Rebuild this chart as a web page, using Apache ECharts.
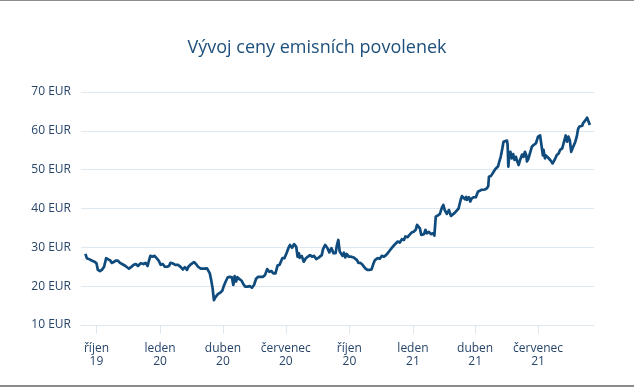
<!DOCTYPE html>
<html>
<head>
<meta charset="utf-8">
<script src="https://cdn.jsdelivr.net/npm/echarts@6/dist/echarts.min.js"></script>
<style>
  html, body { margin: 0; padding: 0; background: #fff; }
  #wrap { position: relative; width: 634px; height: 387px; overflow: hidden; }
  #chart { position: absolute; left: 0; top: 0; width: 634px; height: 387px; }
  .rule { position: absolute; left: 0; width: 634px; background: #8c8c8c; }
</style>
</head>
<body>
<div id="wrap">
  <div id="chart"></div>
  <div class="rule" style="top:0;height:1px;"></div>
  <div class="rule" style="top:385px;height:2px;"></div>
</div>
<script>
const titleText = 'Vývoj ceny emisních povolenek';

const tickDates = ['2019-10-01','2020-01-01','2020-04-01','2020-07-01','2020-10-01','2021-01-01','2021-04-01','2021-07-01'];
const tickLabels = ['říjen\n19','leden\n20','duben\n20','červenec\n20','říjen\n20','leden\n21','duben\n21','červenec\n21'];

const yTicks = [10, 20, 30, 40, 50, 60, 70];

const dates = [
'2019-09-15','2019-09-17','2019-09-21','2019-09-24','2019-09-28','2019-10-01','2019-10-03','2019-10-06','2019-10-09','2019-10-12',
'2019-10-15','2019-10-18','2019-10-21','2019-10-23','2019-10-26','2019-10-29','2019-11-01','2019-11-04','2019-11-07','2019-11-12',
'2019-11-17','2019-11-20','2019-11-24','2019-11-27','2019-11-30','2019-12-04','2019-12-08','2019-12-11','2019-12-14','2019-12-16',
'2019-12-18','2019-12-21','2019-12-24','2019-12-27','2019-12-30','2020-01-02','2020-01-05','2020-01-08','2020-01-11','2020-01-14',
'2020-01-16','2020-01-19','2020-01-23','2020-01-27','2020-01-31','2020-02-03','2020-02-06','2020-02-09','2020-02-11','2020-02-15',
'2020-02-19','2020-02-22','2020-02-25','2020-02-29','2020-03-04','2020-03-06','2020-03-09','2020-03-11','2020-03-13','2020-03-15',
'2020-03-17','2020-03-19','2020-03-21','2020-03-23','2020-03-25','2020-03-28','2020-03-31','2020-04-02','2020-04-05','2020-04-08',
'2020-04-11','2020-04-14','2020-04-16','2020-04-18','2020-04-20','2020-04-22','2020-04-25','2020-04-28','2020-04-30','2020-05-03',
'2020-05-07','2020-05-10','2020-05-13','2020-05-16','2020-05-19','2020-05-22','2020-05-26','2020-05-29','2020-06-01','2020-06-04',
'2020-06-07','2020-06-10','2020-06-13','2020-06-16','2020-06-19','2020-06-22','2020-06-24','2020-06-26','2020-06-29','2020-07-02',
'2020-07-05','2020-07-07','2020-07-10','2020-07-13','2020-07-16','2020-07-18','2020-07-20','2020-07-21','2020-07-24','2020-07-27',
'2020-07-30','2020-08-02','2020-08-05','2020-08-08','2020-08-11','2020-08-14','2020-08-17','2020-08-19','2020-08-22','2020-08-24',
'2020-08-27','2020-08-30','2020-09-02','2020-09-05','2020-09-08','2020-09-11','2020-09-13','2020-09-15','2020-09-17','2020-09-21',
'2020-09-23','2020-09-25','2020-09-27','2020-09-30','2020-10-03','2020-10-07','2020-10-09','2020-10-12','2020-10-14','2020-10-17',
'2020-10-20','2020-10-22','2020-10-24','2020-10-27','2020-10-30','2020-11-02','2020-11-05','2020-11-07','2020-11-08','2020-11-11',
'2020-11-14','2020-11-17','2020-11-20','2020-11-23','2020-11-26','2020-11-29','2020-12-02','2020-12-05','2020-12-07','2020-12-10',
'2020-12-13','2020-12-16','2020-12-19','2020-12-21','2020-12-24','2020-12-27','2020-12-30','2021-01-01','2021-01-02','2021-01-05',
'2021-01-07','2021-01-09','2021-01-11','2021-01-13','2021-01-15','2021-01-17','2021-01-19','2021-01-21','2021-01-24','2021-01-27',
'2021-01-30','2021-02-01','2021-02-03','2021-02-06','2021-02-09','2021-02-12','2021-02-14','2021-02-16','2021-02-19','2021-02-22',
'2021-02-25','2021-02-27','2021-03-02','2021-03-05','2021-03-08','2021-03-11','2021-03-13','2021-03-15','2021-03-17','2021-03-19',
'2021-03-20','2021-03-23','2021-03-25','2021-03-27','2021-03-30','2021-04-02','2021-04-05','2021-04-07','2021-04-10','2021-04-12',
'2021-04-15','2021-04-18','2021-04-20','2021-04-21','2021-04-24','2021-04-26','2021-04-28','2021-04-30','2021-05-02','2021-05-04',
'2021-05-06','2021-05-08','2021-05-10','2021-05-12','2021-05-14','2021-05-17','2021-05-18','2021-05-19','2021-05-20','2021-05-22',
'2021-05-24','2021-05-26','2021-05-28','2021-05-30','2021-06-01','2021-06-03','2021-06-05','2021-06-08','2021-06-10','2021-06-12',
'2021-06-14','2021-06-15','2021-06-17','2021-06-19','2021-06-22','2021-06-25','2021-06-28','2021-07-01','2021-07-04','2021-07-06',
'2021-07-08','2021-07-09','2021-07-11','2021-07-12','2021-07-14','2021-07-16','2021-07-18','2021-07-20','2021-07-22','2021-07-24',
'2021-07-26','2021-07-28','2021-07-31','2021-08-02','2021-08-05','2021-08-07','2021-08-09','2021-08-10','2021-08-12','2021-08-14',
'2021-08-16','2021-08-18','2021-08-20','2021-08-22','2021-08-24','2021-08-26','2021-08-28','2021-08-30','2021-09-01','2021-09-03',
'2021-09-04','2021-09-06','2021-09-08','2021-09-10','2021-09-12','2021-09-14'
];

const prices = [
28.3,27.2,26.9,26.6,26.3,25.9,24.2,23.9,24.2,25.0,
27.2,26.9,26.6,26.0,26.2,26.6,26.6,26.0,25.7,25.2,
24.5,24.9,25.5,25.7,25.2,25.9,25.7,26.0,25.2,26.6,
27.8,27.6,27.8,27.2,26.6,25.5,25.7,25.0,25.0,25.2,
26.0,25.9,25.5,25.5,24.9,24.3,24.9,24.2,25.0,25.7,
26.2,25.7,25.0,24.5,24.5,24.2,24.6,25.0,23.3,21.6,
19.5,16.4,17.1,16.8,18.0,18.3,18.8,19.9,21.2,22.3,
22.4,22.3,20.3,22.6,21.2,22.3,21.8,21.4,20.7,19.9,
19.9,20.0,19.6,20.3,21.9,22.4,22.4,22.4,22.9,24.4,
23.7,23.9,23.3,23.3,25.3,25.5,25.9,27.2,27.2,28.5,
29.9,30.6,29.9,30.8,30.2,27.6,28.5,27.3,27.8,26.3,
27.2,27.6,28.0,27.6,27.8,27.0,27.3,27.2,28.0,29.6,
30.6,29.9,28.7,29.8,28.5,28.5,30.6,31.9,28.9,27.8,
28.6,27.4,28.3,27.6,27.6,27.4,27.4,26.7,26.0,26.0,
25.5,26.0,24.6,24.2,24.2,24.3,25.9,26.7,26.6,27.2,
27.1,27.8,27.6,28.0,28.6,29.3,30.0,30.6,31.0,31.5,
31.2,32.1,31.9,32.8,32.6,33.2,33.8,33.6,34.0,34.5,
35.8,35.5,34.9,33.2,32.8,33.4,34.5,33.6,34.0,33.4,
33.6,33.0,37.9,38.2,38.6,40.3,40.9,39.6,38.6,39.6,
38.1,37.7,38.8,39.4,40.0,42.2,43.2,43.5,42.4,43.0,
42.2,42.9,41.8,42.6,42.9,42.9,44.3,44.6,44.8,45.2,
44.9,45.2,45.8,48.2,48.4,48.9,49.5,50.1,49.9,50.8,
52.1,53.3,55.1,57.2,57.6,57.5,56.4,50.8,52.9,54.6,
52.9,54.0,52.5,53.3,52.1,51.2,52.5,53.9,53.3,54.6,
53.7,52.1,52.8,53.3,55.9,56.4,56.8,58.5,58.8,58.5,
53.7,55.1,52.9,53.7,53.3,53.0,52.8,52.2,51.6,52.2,
52.9,53.7,54.2,55.1,55.5,56.8,58.1,58.8,57.2,58.5,
57.6,54.6,55.5,55.9,57.2,58.5,60.5,61.1,61.5,61.3,
61.9,62.4,62.8,63.4,63.0,61.5
];

function toTime(s) {
  const p = s.split('-').map(Number);
  return Date.UTC(p[0], p[1] - 1, p[2]);
}
const DAY = 86400000;
const tickTimes = tickDates.map(toTime);
const labelByTime = {};
tickTimes.forEach((t, i) => { labelByTime[t] = tickLabels[i]; });

const seriesData = dates.map((d, i) => [toTime(d), prices[i]]);

const textColor = '#27456a';
const gridColor = '#dfe7ef';

const chart = echarts.init(document.getElementById('chart'), null, { renderer: 'canvas' });
chart.setOption({
  animation: false,
  backgroundColor: '#ffffff',
  title: {
    text: titleText,
    left: 'center',
    top: 34,
    textStyle: {
      fontFamily: 'Open Sans',
      fontSize: 18,
      fontWeight: 'normal',
      color: '#1d4f7c'
    }
  },
  grid: { left: 81, right: 40, top: 92, bottom: 62, containLabel: false },
  xAxis: {
    type: 'value',
    min: toTime('2019-10-01') - 22.4 * DAY,
    max: toTime('2021-09-01') + 19 * DAY,
    scale: true,
    splitLine: { show: false },
    axisLine: { show: true, lineStyle: { color: gridColor, width: 1 } },
    axisTick: { show: true, length: 9, customValues: tickTimes, lineStyle: { color: gridColor, width: 1 } },
    axisLabel: {
      customValues: tickTimes,
      margin: 17,
      color: textColor,
      fontFamily: 'Open Sans',
      fontSize: 12,
      lineHeight: 13,
      align: 'center',
      formatter: function (v) { return labelByTime[v] || ''; }
    }
  },
  yAxis: {
    type: 'value',
    min: 10,
    max: 70,
    interval: 10,
    axisLine: { show: false },
    axisTick: { show: false },
    splitLine: { show: true, lineStyle: { color: gridColor, width: 1 } },
    axisLabel: {
      margin: 10,
      color: textColor,
      fontFamily: 'Open Sans',
      fontSize: 12,
      formatter: function (v) { return yTicks.indexOf(v) >= 0 ? v + ' EUR' : ''; }
    }
  },
  series: [{
    type: 'line',
    data: seriesData,
    showSymbol: false,
    symbol: 'none',
    lineStyle: { color: '#0f4b7d', width: 2.7, join: 'round' },
    itemStyle: { color: '#0f4b7d' }
  }]
});
</script>
</body>
</html>
